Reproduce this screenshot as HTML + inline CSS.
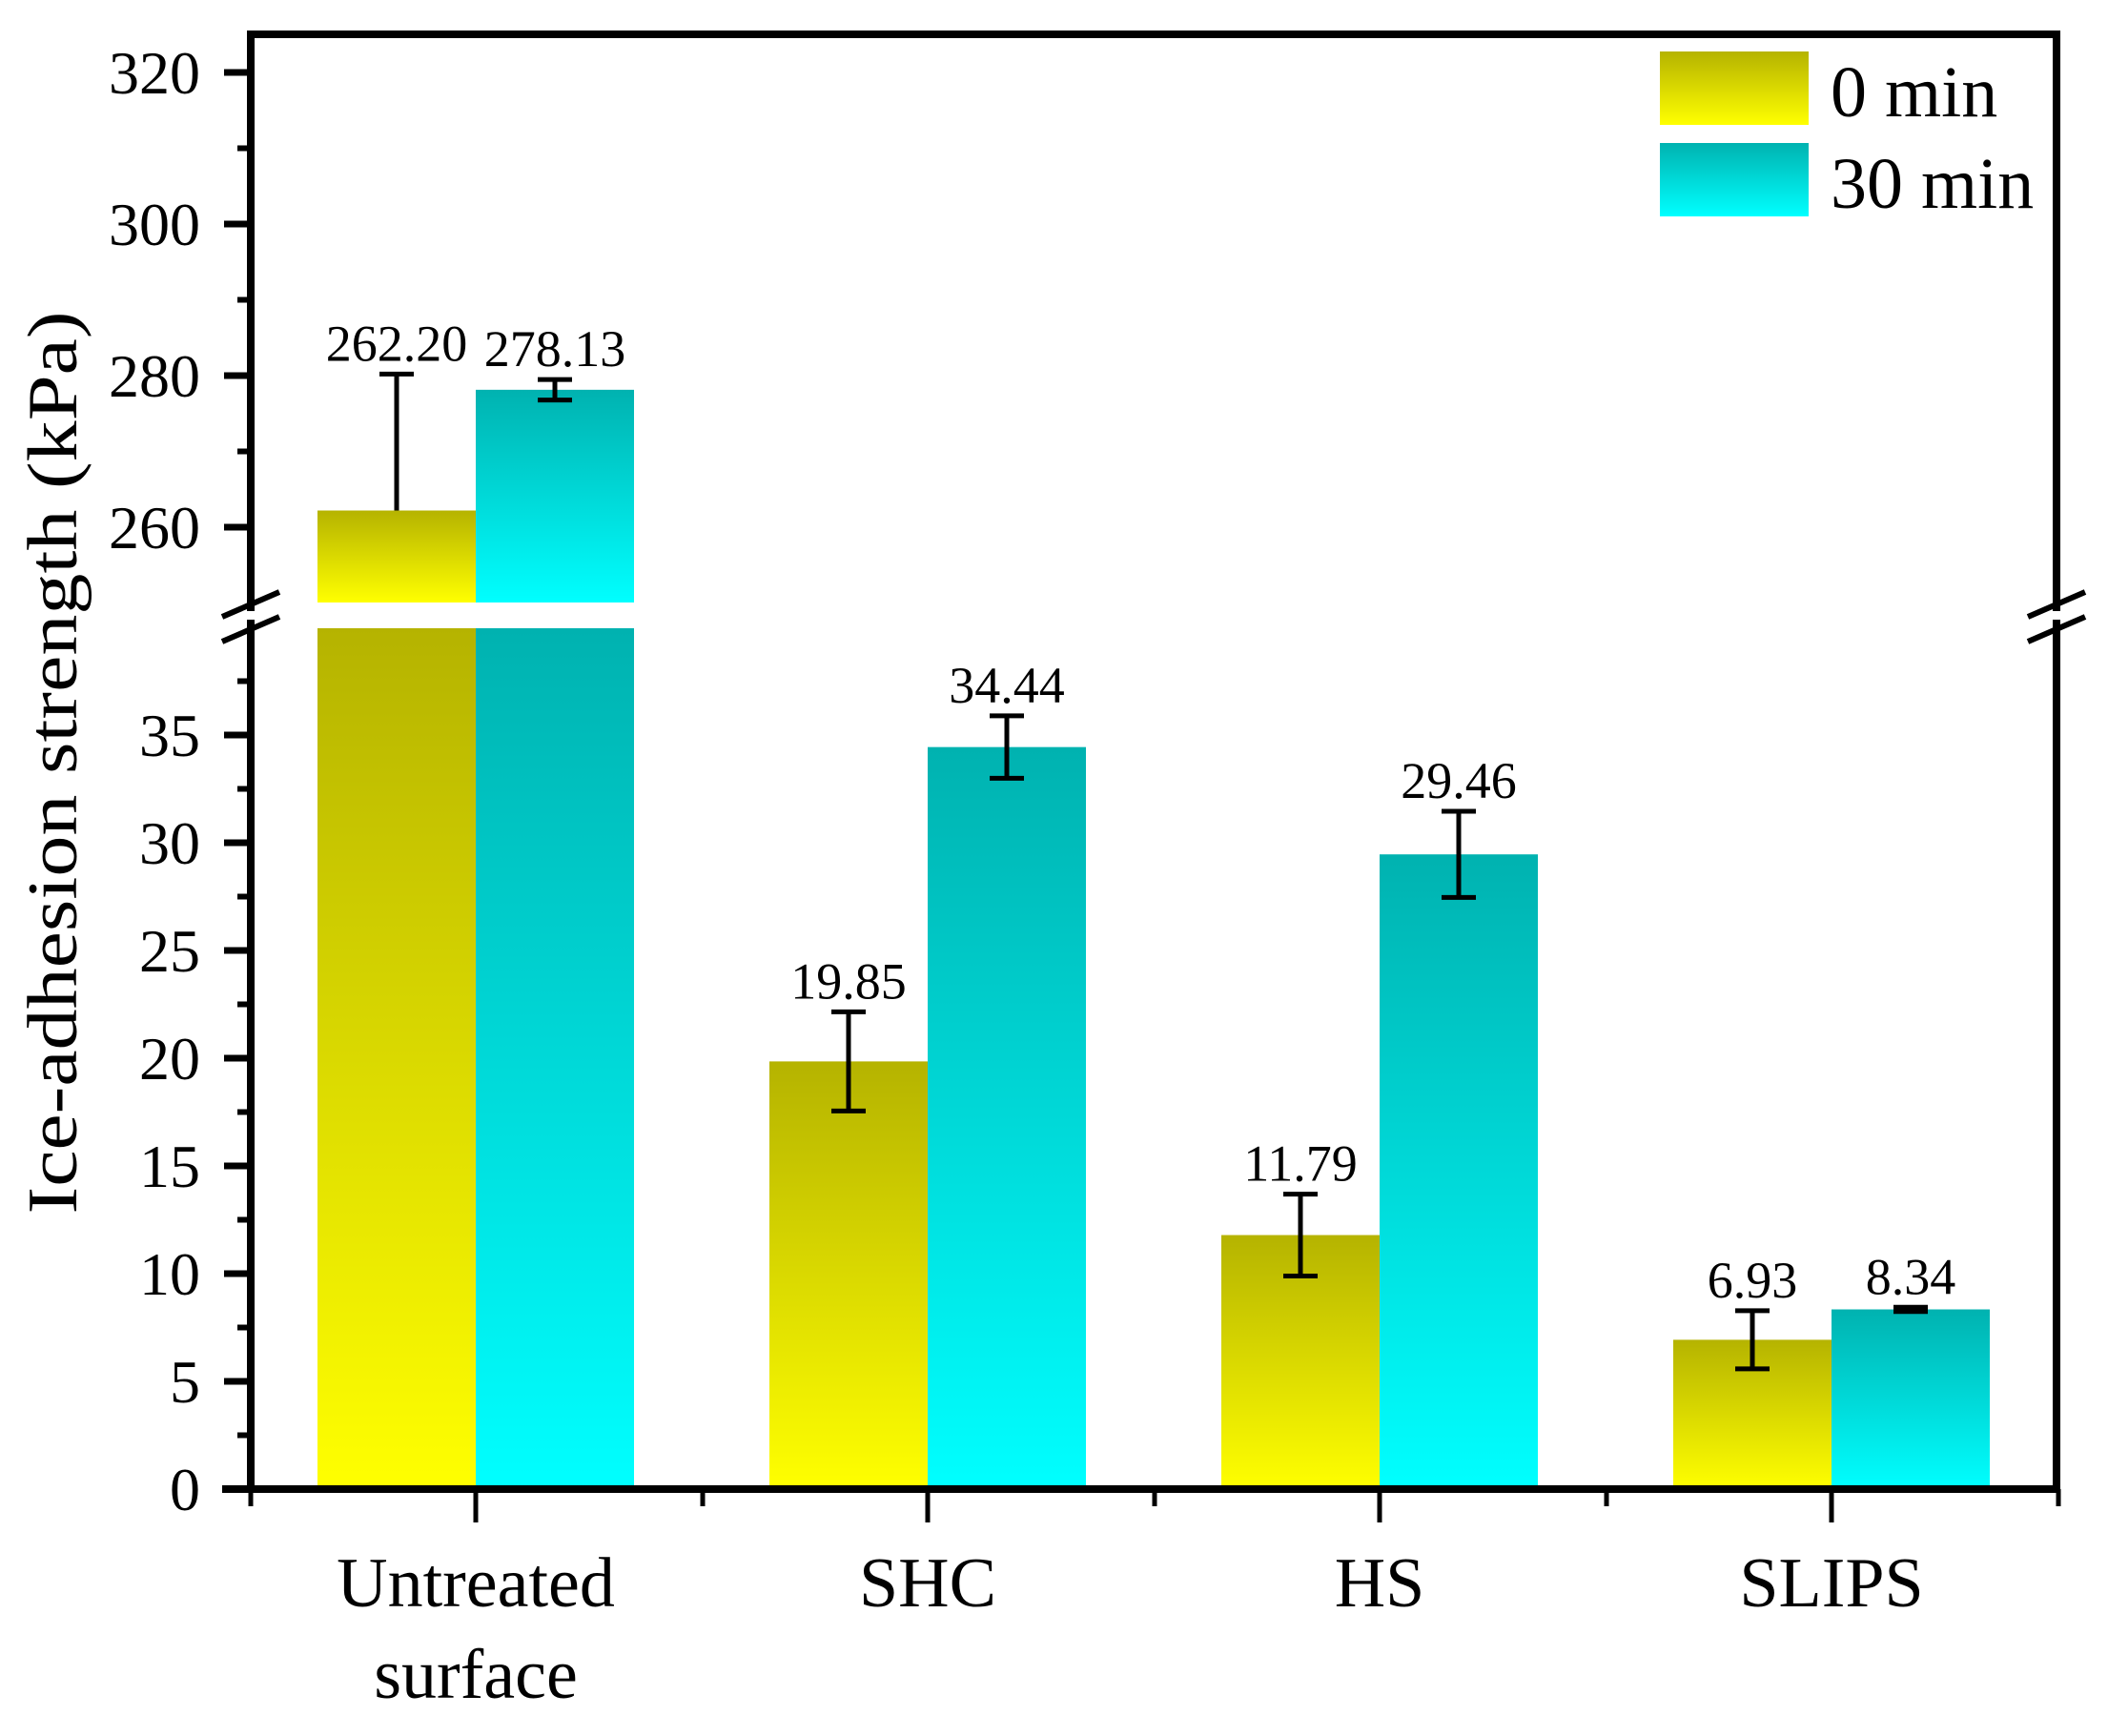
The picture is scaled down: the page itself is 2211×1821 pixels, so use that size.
<!DOCTYPE html>
<html><head><meta charset="utf-8"><style>
html,body{margin:0;padding:0;background:#fff;}
svg{display:block;font-family:"Liberation Serif",serif;}
</style></head><body>
<svg id="chart" width="2211" height="1821" viewBox="0 0 2211 1821" xmlns="http://www.w3.org/2000/svg">
<defs>
<linearGradient id="gY" x1="0" y1="0" x2="0" y2="1"><stop offset="0" stop-color="#b5b300"/><stop offset="1" stop-color="#ffff00"/></linearGradient>
<linearGradient id="gC" x1="0" y1="0" x2="0" y2="1"><stop offset="0" stop-color="#00b2b0"/><stop offset="1" stop-color="#00ffff"/></linearGradient>
</defs>
<g id="bars"></g>
<g id="axes"></g>
<g id="labels"></g>
</svg>
<script>
const categories = ["Untreated|surface", "SHC", "HS", "SLIPS"];
const values0 = [262.20, 19.85, 11.79, 6.93];
const values30 = [278.13, 34.44, 29.46, 8.34];
const err0 = [18, 2.3, 1.9, 1.35];
const err30 = [1.35, 1.45, 2.0, 0.1];
const lowerTicks = [0, 5, 10, 15, 20, 25, 30, 35];
const upperTicks = [260, 280, 300, 320];
const seriesNames = ["0 min", "30 min"];

const NS = "http://www.w3.org/2000/svg";
const L = 263, R = 2157, TOP = 36;
const lowY0 = 1562, lowPer = 22.6, lowMax = 40, lowTop = 659;
const upY260 = 553, upPer = 7.95, upMin = 250, upBottom = 632;
function yLow(v){ return lowY0 - v*lowPer; }
function yUp(v){ return upY260 - (v-260)*upPer; }
function yVal(v){ return v > lowMax ? yUp(v) : yLow(v); }
const step = 474, firstC = 499, bw = 166;
function xC(i){ return firstC + i*step; }

function el(tag, attrs, parent, text){
  const e = document.createElementNS(NS, tag);
  for (const k in attrs) e.setAttribute(k, attrs[k]);
  if (text !== undefined) e.textContent = text;
  parent.appendChild(e);
  return e;
}
const gB = document.getElementById('bars'), gA = document.getElementById('axes'), gL = document.getElementById('labels');

function drawBar(x, v, grad, name){
  if (v > lowMax){
    const r1 = el('rect', {x:x, y:lowTop, width:bw, height:lowY0-lowTop, fill:grad}, gB);
    
    
    const t = yUp(v);
    const r2 = el('rect', {x:x, y:t, width:bw, height:upBottom-t, fill:grad}, gB);
    
    
  } else {
    const t = yLow(v);
    const r = el('rect', {x:x, y:t, width:bw, height:lowY0-t, fill:grad}, gB);
    
    
  }
}
function drawErr(cx, v, e, name, upOnly){
  const top = yVal(v+e), bot = upOnly ? yVal(v) : yVal(v-e);
  const g = el('g', {stroke:'#000', 'stroke-width':5}, gB);
  
  
  el('line', {x1:cx, x2:cx, y1:top, y2:bot}, g);
  el('line', {x1:cx-18, x2:cx+18, y1:top, y2:top}, g);
  if (!upOnly) el('line', {x1:cx-18, x2:cx+18, y1:bot, y2:bot}, g);
  return top;
}
function drawVal(cx, y, v, name){
  const t = el('text', {x:cx, y:y-14, 'font-size':54, 'text-anchor':'middle'}, gL, v.toFixed(2));
  
  
}

categories.forEach((c, i) => {
  const cx = xC(i);
  drawBar(cx-bw, values0[i], 'url(#gY)', 'bar-0min-'+i);
  drawBar(cx, values30[i], 'url(#gC)', 'bar-30min-'+i);
  const t0 = drawErr(cx-bw/2, values0[i], err0[i], 'error-bar-0min-'+i, i===0);
  const t1 = drawErr(cx+bw/2, values30[i], err30[i], 'error-bar-30min-'+i, false);
  drawVal(cx-bw/2, t0, values0[i], 'value-label-0min-'+i);
  drawVal(cx+bw/2, t1, values30[i], 'value-label-30min-'+i);
  const lines = c.split('|');
  lines.forEach((ln, k) => {
    const t = el('text', {x:cx, y:1685 + k*96, 'font-size':74, 'text-anchor':'middle'}, gL, ln);
    
    
  });
});

const frame = el('path', {d:`M${L} ${yLow(0)} L${L} ${TOP} L${R} ${TOP} L${R} ${yLow(0)}`, fill:'none', stroke:'#000', 'stroke-width':8}, gA);


const xax = el('line', {x1:233, x2:R+4, y1:lowY0, y2:lowY0, stroke:'#000', 'stroke-width':8}, gA);


[L, R].forEach((ax, j) => {
  const w = el('rect', {x:ax-6, y:641, width:12, height:9, fill:'#fff'}, gA);
  
  
  [0, 26].forEach(d => {
    const s = el('line', {x1:ax-30, y1:647+d, x2:ax+30, y2:621+d, stroke:'#000', 'stroke-width':6}, gA);
    
    
  });
});
lowerTicks.forEach(v => {
  const y = yLow(v);
  el('line', {x1:235, x2:L, y1:y, y2:y, stroke:'#000', 'stroke-width':7}, gA);
  const t = el('text', {x:210, y:y+22, 'font-size':64, 'text-anchor':'end'}, gL, String(v));
  
  
  const m = yLow(v+2.5);
  if (v+2.5 < lowMax) el('line', {x1:249, x2:L, y1:m, y2:m, stroke:'#000', 'stroke-width':6}, gA);
});
upperTicks.forEach(v => {
  const y = yUp(v);
  el('line', {x1:235, x2:L, y1:y, y2:y, stroke:'#000', 'stroke-width':7}, gA);
  const t = el('text', {x:210, y:y+22, 'font-size':64, 'text-anchor':'end'}, gL, String(v));
  
  
  if (v < 320){ const m = yUp(v+10); el('line', {x1:249, x2:L, y1:m, y2:m, stroke:'#000', 'stroke-width':6}, gA); }
});
for (let i = 0; i < categories.length; i++){
  el('line', {x1:xC(i), x2:xC(i), y1:lowY0, y2:1597, stroke:'#000', 'stroke-width':5}, gA);
}
for (let i = 0; i <= categories.length; i++){
  const x = L + i*step;
  el('line', {x1:x, x2:x, y1:lowY0, y2:1580, stroke:'#000', 'stroke-width':5}, gA);
}
const yt = el('text', {x:0, y:0, 'font-size':74, 'text-anchor':'middle', transform:'translate(80,800) rotate(-90)', textLength:947, lengthAdjust:'spacingAndGlyphs'}, gL, 'Ice-adhesion strength (kPa)');


[['url(#gY)', 54], ['url(#gC)', 150]].forEach((p, i) => {
  const r = el('rect', {x:1741, y:p[1], width:156, height:77, fill:p[0]}, gL);
  
  
  const t = el('text', {x:1920, y:p[1]+68, 'font-size':76}, gL, seriesNames[i]);
  
  
});
</script>
</body></html>
